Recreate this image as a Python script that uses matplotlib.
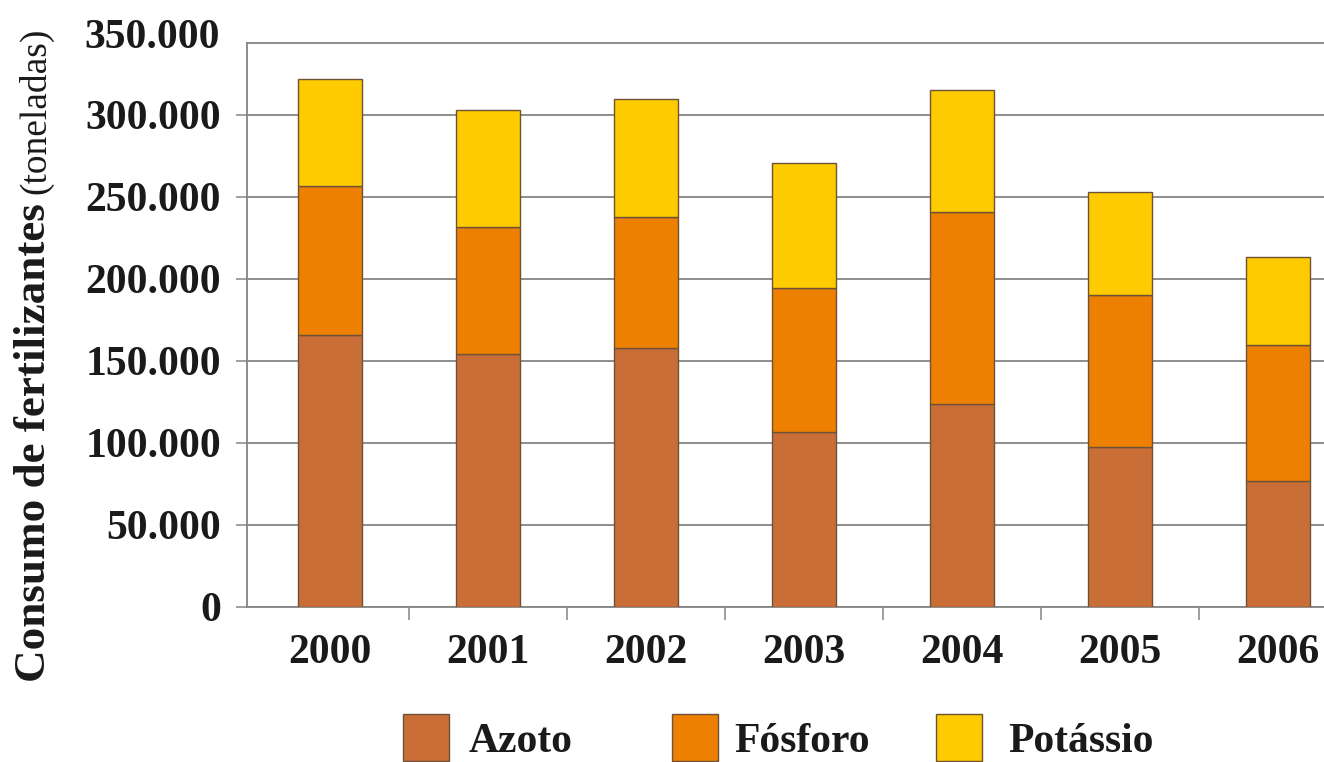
import matplotlib
matplotlib.use("Agg")
import matplotlib.pyplot as plt
from matplotlib.patches import Rectangle
from matplotlib.ticker import FuncFormatter, FixedLocator
from matplotlib import transforms

# Consumo de fertilizantes por ano (toneladas)
years = ["2000", "2001", "2002", "2003", "2004", "2005", "2006"]
azoto = [166000, 154000, 158000, 106500, 123500, 97500, 76500]
fosforo = [90500, 77500, 79500, 88000, 117000, 92500, 83000]
potassio = [65500, 71500, 72000, 76000, 74500, 63000, 54000]
series_names = ["Azoto", "Fósforo", "Potássio"]
y_ticks = [0, 50000, 100000, 150000, 200000, 250000, 300000, 350000]

colors = ["#CA6E38", "#ED8000", "#FDCB00"]
edge = "#6E5238"
grid_c = "#858585"
serif = ["Liberation Serif", "DejaVu Serif"]

W, H, DPI = 1324, 762, 100
fig = plt.figure(figsize=(W / DPI, H / DPI), dpi=DPI)
fig.patch.set_facecolor("white")

# axes box in pixels: left 246.7, top 42.7, bottom 606.5, right at the figure edge
ax = fig.add_axes([246.7 / W, (H - 606.5) / H, 1 - 246.7 / W, (606.5 - 42.7) / H])

x = list(range(len(years)))
bw = 0.405
bottoms2 = [a + f for a, f in zip(azoto, fosforo)]
ax.bar(x, azoto, bw, color=colors[0], edgecolor=edge, linewidth=1.0, zorder=3)
ax.bar(x, fosforo, bw, bottom=azoto, color=colors[1], edgecolor=edge, linewidth=1.0, zorder=3)
ax.bar(x, potassio, bw, bottom=bottoms2, color=colors[2], edgecolor=edge, linewidth=1.0, zorder=3)

ax.set_xlim(-0.53, 6.29)
ax.set_ylim(0, 344100)

# y axis: ticks, labels with dot thousands separator, horizontal grid
ax.set_yticks(y_ticks[:-1])
ax.yaxis.set_major_formatter(FuncFormatter(lambda v, p: f"{int(v):,}".replace(",", ".")))
ax.yaxis.grid(True, color=grid_c, linewidth=1.3, zorder=0)
ax.set_axisbelow(True)
ax.tick_params(axis="y", direction="out", length=8, width=1.1, color=grid_c, pad=10.5)
for lab in ax.get_yticklabels():
    lab.set_fontfamily(serif)
    lab.set_fontweight("bold")
    lab.set_fontsize(30)
    lab.set_color("#1a1a1a")

# top tick label sits above the frame
off = transforms.offset_copy(ax.get_yaxis_transform(), fig=fig, x=-26.5, y=0, units="dots")
ax.text(0, y_ticks[-1], f"{y_ticks[-1]:,}".replace(",", "."), transform=off,
        ha="right", va="center_baseline", fontsize=30, fontweight="bold",
        family=serif, color="#1a1a1a", clip_on=False)

# x axis: category labels, separators between categories
ax.set_xticks(x)
ax.set_xticklabels(years)
ax.xaxis.set_minor_locator(FixedLocator([i + 0.5 for i in range(len(years) - 1)]))
ax.tick_params(axis="x", which="major", length=0, pad=20)
ax.tick_params(axis="x", which="minor", direction="out", length=9.5, width=1.1, color=grid_c)
for lab in ax.get_xticklabels():
    lab.set_fontfamily(serif)
    lab.set_fontweight("bold")
    lab.set_fontsize(30)
    lab.set_color("#1a1a1a")

for s in ["left", "bottom", "top"]:
    ax.spines[s].set_color(grid_c)
    ax.spines[s].set_linewidth(1.3)
ax.spines["right"].set_visible(False)

# y axis title: bold part followed by the regular unit on a shared baseline
fig.canvas.draw()
renderer = fig.canvas.get_renderer()
base_x = 45 / W
t1 = fig.text(base_x, (H - 682) / H, "Consumo de fertilizantes", rotation=90,
              rotation_mode="anchor", ha="left", va="baseline",
              fontsize=32.5, fontweight="bold", family=serif, color="#1a1a1a")
bb = t1.get_window_extent(renderer)
t2 = fig.text(base_x, (bb.y1 + 9) / H, "(toneladas)", rotation=90,
              rotation_mode="anchor", ha="left", va="baseline",
              fontsize=27, fontweight="normal", family=serif, color="#1a1a1a")

# legend
legend_x = [(403, 469), (672, 734), (936, 1008)]
for (sx, tx), name, c in zip(legend_x, series_names, colors):
    fig.add_artist(Rectangle((sx / W, (H - 761) / H), 46 / W, 47 / H,
                             transform=fig.transFigure, facecolor=c,
                             edgecolor=edge, linewidth=1.0))
    fig.text(tx / W, (H - 752) / H, name, ha="left", va="baseline",
             fontsize=30, fontweight="bold", family=serif, color="#1a1a1a")

fig.savefig("out.png", dpi=DPI, facecolor="white")
